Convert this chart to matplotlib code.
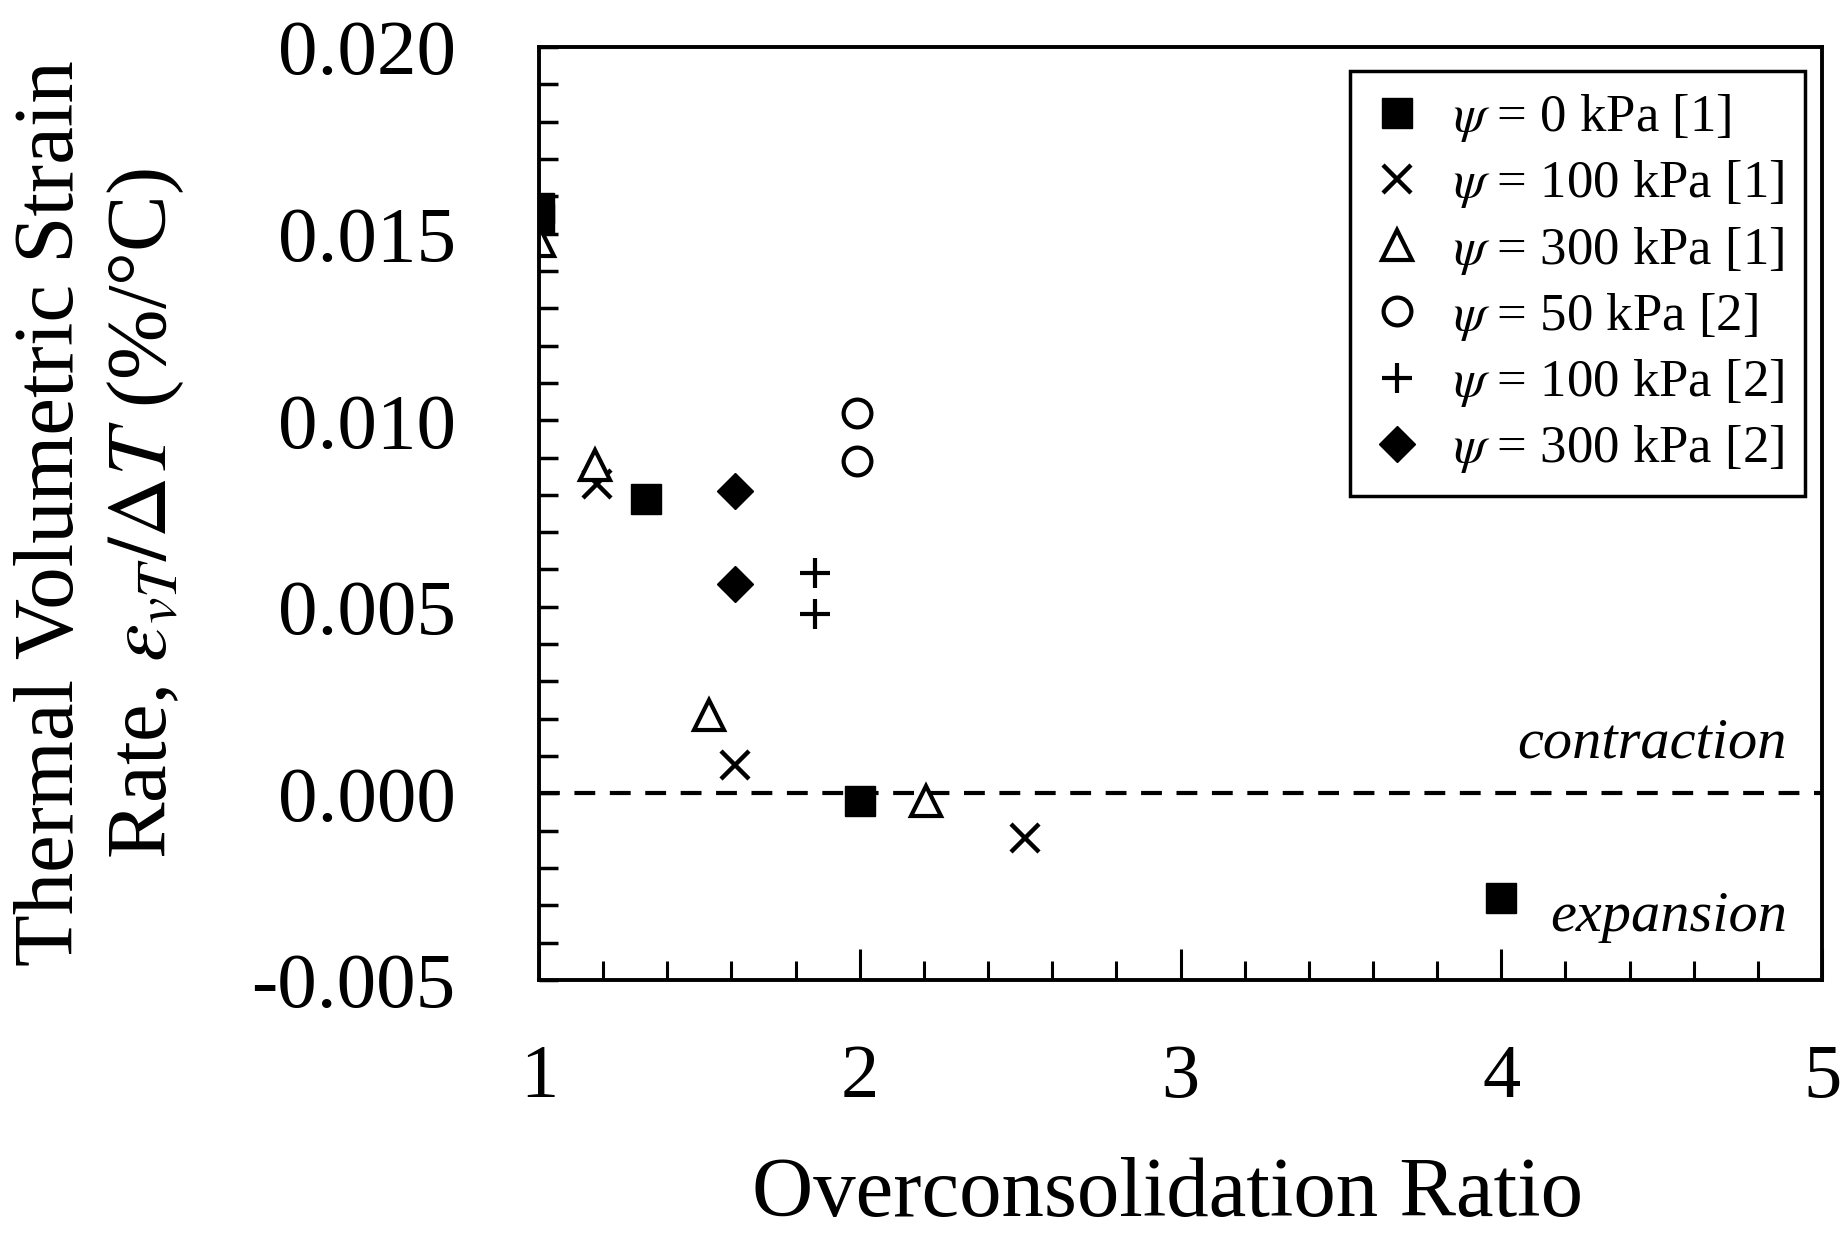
import matplotlib
matplotlib.use("Agg")
import matplotlib.pyplot as plt
from matplotlib.ticker import MultipleLocator

# Schriften wie im Original (Times-aehnlich)
plt.rcParams['font.family'] = ['Liberation Serif', 'DejaVu Serif']
plt.rcParams['mathtext.fontset'] = 'stix'

# Daten
ocr_0_1 = [1.0, 1.0, 1.335, 2.0, 4.0]
rate_0_1 = [0.0157, 0.0154, 0.0079, -0.0002, -0.0028]

ocr_100_1 = [1.18, 1.61, 2.515]
rate_100_1 = [0.0083, 0.00075, -0.0012]

ocr_300_1 = [1.0, 1.175, 1.53, 2.205]
rate_300_1 = [0.0148, 0.0088, 0.0021, -0.0002]

ocr_50_2 = [1.99, 1.99]
rate_50_2 = [0.0102, 0.0089]

ocr_100_2 = [1.86, 1.86]
rate_100_2 = [0.0059, 0.0048]

ocr_300_2 = [1.61, 1.61]
rate_300_2 = [0.0081, 0.0056]

labels = [r'$\psi$ = 0 kPa [1]', r'$\psi$ = 100 kPa [1]',
          r'$\psi$ = 300 kPa [1]', r'$\psi$ = 50 kPa [2]',
          r'$\psi$ = 100 kPa [2]', r'$\psi$ = 300 kPa [2]']

fig = plt.figure(figsize=(18.46, 12.38), dpi=100)
ax = fig.add_axes([0.292, 0.2084, 0.695, 0.7536])

# Nulllinie
ax.axhline(0, color='black', lw=3, dashes=(5, 3.5), zorder=1)

# Messpunkte
ax.plot(ocr_0_1, rate_0_1, ls='none', marker='s', ms=22, color='black', label=labels[0])
ax.plot(ocr_100_1, rate_100_1, ls='none', marker='x', ms=20, mew=3.2, color='black', label=labels[1])
ax.plot(ocr_300_1, rate_300_1, ls='none', marker='^', ms=22, mew=3, mfc='white', mec='black', label=labels[2])
ax.plot(ocr_50_2, rate_50_2, ls='none', marker='o', ms=20, mew=3, mfc='white', mec='black', label=labels[3])
ax.plot(ocr_100_2, rate_100_2, ls='none', marker='+', ms=22, mew=3, color='black', label=labels[4])
ax.plot(ocr_300_2, rate_300_2, ls='none', marker='D', ms=18, color='black', label=labels[5])

ax.text(4.89, 0.00097, 'contraction', style='italic', fontsize=42, ha='right', va='baseline')
ax.text(4.89, -0.00368, 'expansion', style='italic', fontsize=42, ha='right', va='baseline')

ax.set_xlim(1, 5)
ax.set_ylim(-0.005, 0.020)
ax.xaxis.set_major_locator(MultipleLocator(1))
ax.xaxis.set_minor_locator(MultipleLocator(0.2))
ax.yaxis.set_major_locator(MultipleLocator(0.005))
ax.yaxis.set_minor_locator(MultipleLocator(0.001))
ax.yaxis.set_major_formatter(plt.FuncFormatter(lambda v, p: f'{v:.3f}'))

ax.tick_params(axis='x', which='major', direction='in', length=22, width=2.2, labelsize=55, pad=46)
ax.tick_params(axis='x', which='minor', direction='in', length=14, width=2.2)
ax.tick_params(axis='y', which='both', direction='in', length=14, width=2.5, labelsize=57, pad=60)
ax.tick_params(top=False, right=False, which='both')
for s in ax.spines.values():
    s.set_linewidth(2.8)

ax.set_xlabel('Overconsolidation Ratio', fontsize=61)
ax.xaxis.set_label_coords(0.49, -0.19)
ax.set_ylabel('Thermal Volumetric Strain\n' + r'Rate, $\varepsilon_{vT}/\Delta T$ (%/°C)',
              fontsize=61, linespacing=1.25)
ax.yaxis.set_label_coords(-0.275, 0.5)

leg = ax.legend(loc='upper right', bbox_to_anchor=(0.9867, 0.9743), borderaxespad=0,
                fontsize=38, markerscale=1.0, handlelength=1.0, handletextpad=0.55,
                labelspacing=0.27, borderpad=0.4, fancybox=False, framealpha=1,
                edgecolor='black')
leg.get_frame().set_linewidth(2.5)

fig.savefig('out.png', dpi=100)
